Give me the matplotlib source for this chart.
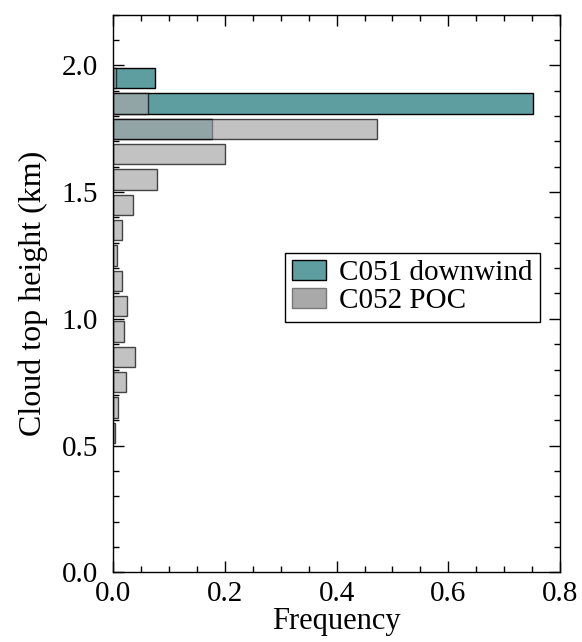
import matplotlib
matplotlib.use("Agg")
import matplotlib.pyplot as plt
from matplotlib.patches import Patch
from matplotlib.ticker import MultipleLocator

# Bin centres (km) and frequencies
heights = [1.95, 1.85, 1.75, 1.65, 1.55, 1.45, 1.35, 1.25, 1.15, 1.05, 0.95, 0.85, 0.75, 0.65, 0.55]
c051_downwind = [0.074, 0.751, 0.177, 0, 0, 0, 0, 0, 0, 0, 0, 0, 0, 0, 0]
c052_poc = [0.005, 0.063, 0.473, 0.200, 0.079, 0.036, 0.016, 0.006, 0.015, 0.024, 0.019, 0.038, 0.022, 0.009, 0.003]
labels = ["C051 downwind", "C052 POC"]

plt.rcParams['font.family'] = ['Liberation Serif', 'DejaVu Serif']

fig = plt.figure(figsize=(5.82, 6.42), dpi=100)
ax = fig.add_axes([0.1947, 0.1086, 0.9622 - 0.1947, 0.9771 - 0.1086])

ax.barh(heights, c051_downwind, height=0.08, color='#5f9ea0', edgecolor='black', linewidth=1.0)
ax.barh(heights, c052_poc, height=0.08, color='#a9a9a9', edgecolor='black', linewidth=1.0, alpha=0.7)

ax.set_xlim(0, 0.8)
ax.set_ylim(0, 2.2)
ax.xaxis.set_major_locator(MultipleLocator(0.2))
ax.xaxis.set_minor_locator(MultipleLocator(0.05))
ax.yaxis.set_major_locator(MultipleLocator(0.5))
ax.yaxis.set_minor_locator(MultipleLocator(0.1))
ax.tick_params(which='both', direction='in', top=True, right=True, labelsize=21, width=1.0)
ax.tick_params(which='major', length=8)
ax.tick_params(which='minor', length=4)
ax.tick_params(axis='x', pad=6)
ax.tick_params(axis='y', pad=11)
for s in ax.spines.values():
    s.set_linewidth(1.0)

ax.set_xlabel("Frequency", fontsize=22, labelpad=0)
ax.set_ylabel("Cloud top height (km)", fontsize=23, labelpad=10)

handles = [Patch(facecolor='#5f9ea0', edgecolor='black', linewidth=1.0),
           Patch(facecolor='#a9a9a9', edgecolor='#777777', linewidth=1.0)]
leg = ax.legend(handles, labels, loc='upper left', bbox_to_anchor=(0.384, 0.573),
                borderaxespad=0, fontsize=21, fancybox=False, edgecolor='black',
                framealpha=1, handlelength=1.15, handleheight=0.7, labelspacing=0.05,
                handletextpad=0.45, borderpad=0.25)
leg.get_frame().set_linewidth(1.0)

fig.savefig("out.png", dpi=100)
